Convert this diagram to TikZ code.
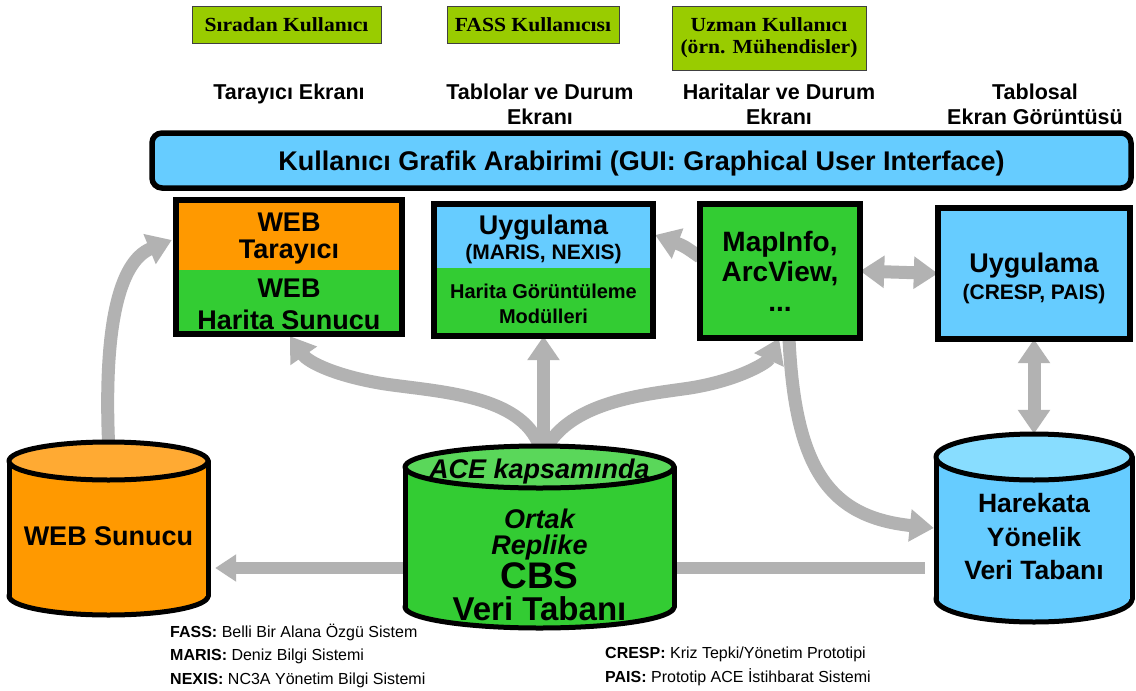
\documentclass[tikz,border=0pt]{standalone}
\usepackage{fontspec}
\setmainfont{Liberation Sans}
\newfontfamily\tnr[FakeStretch=1.08]{Liberation Serif}
\usetikzlibrary{arrows.meta,calc}
\definecolor{cOrange}{HTML}{FF9900}
\definecolor{cOrangeTop}{HTML}{FFAA33}
\definecolor{cGreen}{HTML}{33CC33}
\definecolor{cGreenTop}{HTML}{5AD75A}
\definecolor{cBlue}{HTML}{66CCFF}
\definecolor{cBlueTop}{HTML}{88DDFF}
\definecolor{cLime}{HTML}{99CC00}
\definecolor{cGray}{HTML}{B2B2B2}
\tikzset{
  lbl/.style={inner sep=0pt, anchor=base, font=\bfseries\fontsize{#1}{#1}\selectfont},
  ilbl/.style={inner sep=0pt, anchor=base, font=\bfseries\itshape\fontsize{#1}{#1}\selectfont},
  leg/.style={inner sep=0pt, anchor=base west, font=\fontsize{16}{16}\selectfont},
  hbox/.style={draw=black, line width=5.5pt, inner sep=0pt},
  cylnode/.style={inner sep=0pt, draw=none},
  limebox/.style={fill=cLime, draw=black!75, line width=1pt, inner sep=0pt, align=center,
    font=\tnr\bfseries\fontsize{20}{22}\selectfont},
  garr/.style={draw=cGray, line width=13pt, -{Triangle[length=24pt,width=31pt]}},
  garrd/.style={draw=cGray, line width=13pt, {Triangle[length=24pt,width=31pt]}-{Triangle[length=24pt,width=31pt]}},
  garrl/.style={draw=cGray, line width=12pt, -{Triangle[length=21pt,width=26pt]}},
  cyl/.style={draw=black, line width=5pt, line cap=round, line join=round},
}
% #1 x0, #2 x1, #3 top centre y, #4 bottom centre y, #5 ry, #6 body, #7 top
\newcommand{\dbcyl}[7]{%
  \pgfmathsetmacro\cylcx{(#1+#2)/2}\pgfmathsetmacro\cylrx{(#2-#1)/2}%
  \draw[cyl, fill=#6] (\cylcx,#4) ellipse[x radius=\cylrx, y radius=#5];
  \fill[#6] (#1,#3) rectangle (#2,#4);
  \draw[cyl] (#1,#3) -- (#1,#4) (#2,#3) -- (#2,#4);
  \draw[cyl, fill=#7] (\cylcx,#3) ellipse[x radius=\cylrx, y radius=#5];
}
\begin{document}
\begin{tikzpicture}[x=1pt,y=-1pt]
\useasboundingbox (0,0) rectangle (1136,691);
\fill[white] (0,0) rectangle (1136,691);

% anchor nodes (invisible) for boxes and cylinders
\node[cylnode, minimum width=226pt, minimum height=134pt] (wb) at (289,267) {};
\node[cylnode, minimum width=219pt, minimum height=132pt] (ub) at (543.5,270) {};
\node[cylnode, minimum width=160pt, minimum height=134pt] (mi) at (780,271) {};
\node[cylnode, minimum width=192pt, minimum height=131pt] (cr) at (1034,273.5) {};
\node[cylnode, minimum width=199pt, minimum height=173pt] (ws) at (108.5,528.5) {};
\node[cylnode, minimum width=269pt, minimum height=182pt] (cdb) at (539.5,537) {};
\node[cylnode, minimum width=196pt, minimum height=188pt] (hk) at (1034,528) {};

% connectors
\draw[garrl] ($(hk.west)+(-11,40)$) -- ($(ws.east)+(7,39.5)$);
\draw[garr] (ws.north) .. controls (104,330) and (118,262) .. ($(wb.west)+(-4,-27)$);
\draw[garr] (cdb.north -| ub.south) -- (ub.south);
\draw[garr] (cdb.north) .. controls (520,395) and (440,392) .. (385,384)
   .. controls (335,376) and (308,362) .. ($(wb.south)+(1,2)$);
\draw[garr] ($(cdb.north)+(8,0)$) .. controls (575,400) and (650,394) .. (690,388)
   .. controls (740,380) and (768,362) .. ($(mi.south)+(-1,0)$);
\draw[garr] ($(mi.south)+(9,0)$) .. controls (795,470) and (830,517) .. ($(hk.west)+(-2,0)$);
\draw[garr] ($(mi.west)+(0,-14)$) .. controls (684,246) .. ($(ub.east)+(2,-35)$);
\draw[garrd] (mi.east) -- (cr.west);
\draw[garrd] (cr.south) -- (hk.north);

% cylinders
\dbcyl{9}{208}{461}{596}{19}{cOrange}{cOrangeTop}
\dbcyl{405}{674}{467}{607}{21}{cGreen}{cGreenTop}
\dbcyl{936}{1132}{457}{599}{23}{cBlue}{cBlueTop}

% boxes
\fill[cOrange] (176,200) rectangle (402,270);
\fill[cGreen] (176,270) rectangle (402,334);
\draw[hbox] (wb.north west) rectangle (wb.south east);
\fill[cBlue] (434,204) rectangle (653,268);
\fill[cGreen] (434,268) rectangle (653,336);
\draw[hbox] (ub.north west) rectangle (ub.south east);
\draw[hbox, fill=cGreen] (mi.north west) rectangle (mi.south east);
\draw[hbox, fill=cBlue] (cr.north west) rectangle (cr.south east);
\node[hbox, fill=cBlue, rounded corners=10pt, minimum width=979pt, minimum height=55pt] (gui) at (641.5,160.5) {};

% user boxes
\node[limebox, minimum width=189pt, minimum height=37pt] (u1) at (286.5,24.5) {Sıradan Kullanıcı};
\node[limebox, minimum width=172pt, minimum height=37pt] (u2) at (533,24.5) {FASS Kullanıcısı};
\node[limebox, minimum width=194pt, minimum height=64pt] (u3) at (769,38) {Uzman Kullanıcı\\(örn. Mühendisler)};

% screen labels
\node[lbl=21.5] (l1) at (289,99) {Tarayıcı Ekranı};
\node[lbl=21.5] (l2a) at (540,99) {Tablolar ve Durum};
\node[lbl=21.5] (l2b) at (540,124) {Ekranı};
\node[lbl=21.5] (l3a) at (779,99) {Haritalar ve Durum};
\node[lbl=21.5] (l3b) at (779,124) {Ekranı};
\node[lbl=21.5] (l4a) at (1035,99) {Tablosal};
\node[lbl=21.5] (l4b) at (1035,124) {Ekran Görüntüsü};

\node[lbl=27] (guit) at (641.5,170) {Kullanıcı Grafik Arabirimi (GUI: Graphical User Interface)};

% box texts
\node[lbl=27] (wb1) at (289,231) {WEB};
\node[lbl=27] (wb2) at (289,258) {Tarayıcı};
\node[lbl=27] (wb3) at (289,297) {WEB};
\node[lbl=27] (wb4) at (289,329) {Harita Sunucu};
\node[lbl=27] (ub1) at (543.5,234) {Uygulama};
\node[lbl=21] (ub2) at (543.5,259) {(MARIS, NEXIS)};
\node[lbl=20] (ub3) at (543.5,298) {Harita Görüntüleme};
\node[lbl=20] (ub4) at (543.5,323) {Modülleri};
\node[lbl=28] (mi1) at (780,251) {MapInfo,};
\node[lbl=28] (mi2) at (780,281) {ArcView,};
\node[lbl=28] (mi3) at (780,311) {...};
\node[lbl=27] (cr1) at (1034,272) {Uygulama};
\node[lbl=21] (cr2) at (1034,299) {(CRESP, PAIS)};

% cylinder texts
\node[lbl=27] (ws1) at (108.5,545) {WEB Sunucu};
\node[ilbl=27] (cd1) at (539.5,478) {ACE kapsamında};
\node[ilbl=27] (cd2) at (539.5,528) {Ortak};
\node[ilbl=27] (cd3) at (539.5,554) {Replike};
\node[lbl=37] (cd4) at (539.5,588) {CBS};
\node[lbl=33] (cd5) at (539.5,620) {Veri Tabanı};
\node[lbl=26.5] (hk1) at (1034,512) {Harekata};
\node[lbl=26.5] (hk2) at (1034,546) {Yönelik};
\node[lbl=26.5] (hk3) at (1034,579) {Veri Tabanı};

% legend
\node[leg] (lg1) at (170,637) {\textbf{FASS:} Belli Bir Alana Özgü Sistem};
\node[leg] (lg2) at (170,660) {\textbf{MARIS:} Deniz Bilgi Sistemi};
\node[leg] (lg3) at (170,684) {\textbf{NEXIS:} NC3A Yönetim Bilgi Sistemi};
\node[leg] (lg4) at (605,658) {\textbf{CRESP:} Kriz Tepki/Yönetim Prototipi};
\node[leg] (lg5) at (605,682) {\textbf{PAIS:} Prototip ACE İstihbarat Sistemi};
\end{tikzpicture}
\end{document}
